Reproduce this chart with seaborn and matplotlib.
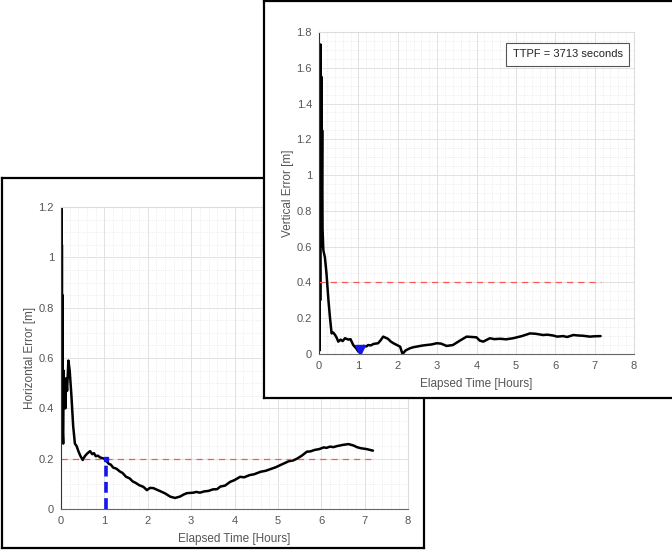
import numpy as np
import pandas as pd
import matplotlib
matplotlib.use('Agg')
import matplotlib.pyplot as plt
from matplotlib.ticker import MultipleLocator
import seaborn as sns

# horizontal error (bottom-left panel)
h_time = [0.00, 0.01, 0.015, 0.02, 0.025, 0.03, 0.035, 0.04, 0.05, 0.06, 0.07, 0.08, 0.10,
          0.12, 0.14, 0.17, 0.20, 0.22, 0.24, 0.28, 0.32, 0.34, 0.36, 0.40, 0.45, 0.50, 0.55,
          0.60, 0.67, 0.72, 0.76, 0.80, 0.85, 0.90, 1.00, 1.05, 1.10, 1.15, 1.20, 1.28,
          1.35, 1.42, 1.50, 1.58, 1.65, 1.72, 1.80, 1.90,
          1.98, 2.05, 2.13, 2.22, 2.30, 2.40, 2.52, 2.63, 2.75, 2.82, 2.90, 3.05, 3.12,
          3.20, 3.30, 3.40, 3.50, 3.60, 3.67, 3.78, 3.90, 4.00,
          4.13, 4.22, 4.35, 4.45, 4.60, 4.72, 4.85, 4.95, 5.06, 5.15, 5.25, 5.35, 5.44,
          5.55, 5.67, 5.75, 5.85, 5.95, 6.06, 6.12, 6.20, 6.28, 6.36,
          6.50, 6.63, 6.75, 6.82, 6.90, 7.05, 7.19]
h_err = [0.40, 1.20, 0.45, 1.05, 0.50, 0.38, 0.85, 0.30, 0.26, 0.55, 0.42, 0.50, 0.40,
         0.52, 0.47, 0.59, 0.55, 0.50, 0.45, 0.33, 0.26, 0.255, 0.25, 0.23, 0.21, 0.195, 0.21,
         0.22, 0.23, 0.218, 0.222, 0.21, 0.212, 0.205, 0.20, 0.19, 0.18, 0.176, 0.165, 0.16,
         0.15, 0.143, 0.128, 0.122, 0.11, 0.104, 0.095, 0.088,
         0.075, 0.084, 0.083, 0.076, 0.07, 0.062, 0.049, 0.044, 0.05, 0.057, 0.063, 0.065, 0.068,
         0.065, 0.07, 0.072, 0.078, 0.079, 0.089, 0.093, 0.108, 0.115,
         0.128, 0.126, 0.135, 0.138, 0.148, 0.152, 0.16, 0.166, 0.175, 0.182, 0.19, 0.193, 0.20,
         0.212, 0.228, 0.229, 0.235, 0.238, 0.245, 0.243, 0.248, 0.246, 0.25,
         0.255, 0.258, 0.252, 0.246, 0.242, 0.238, 0.232]

# vertical error (top-right panel)
v_time = [0.00, 0.01, 0.015, 0.02, 0.03, 0.04, 0.05, 0.06, 0.07, 0.08, 0.09, 0.11,
          0.15, 0.19, 0.24, 0.28, 0.32, 0.36, 0.41, 0.45, 0.49, 0.55, 0.60, 0.66, 0.75,
          0.80, 0.87, 0.95, 1.00, 1.05, 1.13, 1.20, 1.25, 1.32, 1.38, 1.50, 1.56, 1.63,
          1.70, 1.75, 1.82, 1.89, 2.06,
          2.12, 2.20, 2.31, 2.40, 2.50, 2.62, 2.73, 2.85, 2.99, 3.10, 3.24, 3.40, 3.58,
          3.75, 3.88, 4.00,
          4.08, 4.17, 4.34, 4.45, 4.60, 4.75, 4.93, 5.15, 5.36, 5.50, 5.69, 5.80, 5.95,
          6.05, 6.20, 6.30,
          6.46, 6.60, 6.70, 6.88, 7.00, 7.15]
v_err = [0.05, 1.10, 0.02, 1.12, 0.30, 1.73, 0.60, 1.55, 0.92, 1.25, 0.70, 0.58,
         0.54, 0.45, 0.30, 0.20, 0.115, 0.12, 0.106, 0.09, 0.069, 0.08, 0.072, 0.088, 0.08,
         0.083, 0.05, 0.03, 0.013, 0.03, 0.045, 0.042, 0.05, 0.048, 0.056, 0.06, 0.075, 0.097,
         0.09, 0.085, 0.07, 0.06, 0.041,
         0.0, 0.02, 0.032, 0.038, 0.042, 0.047, 0.05, 0.053, 0.06, 0.058, 0.045, 0.05, 0.075,
         0.097, 0.095, 0.093,
         0.075, 0.069, 0.088, 0.083, 0.085, 0.082, 0.088, 0.10, 0.115, 0.113, 0.106, 0.108, 0.103,
         0.097, 0.10, 0.095,
         0.106, 0.103, 0.102, 0.097, 0.099, 0.10]

h_threshold = 0.2
v_threshold = 0.4
ttpf_hours = 3713 / 3600
ttpf_label = 'TTPF = 3713 seconds'

sns.set_style('white')
plt.rcParams['font.family'] = ['Liberation Sans', 'DejaVu Sans']

fig = plt.figure(figsize=(6.72, 5.5), dpi=100)


def frame(rect):
    f = fig.add_axes(rect)
    f.set_facecolor('white')
    f.set_xticks([])
    f.set_yticks([])
    for s in f.spines.values():
        s.set_color('black')
        s.set_linewidth(1.6)
    return f


def style(ax, xmax, ymax, ymajor):
    ax.set_xlim(0, xmax)
    ax.set_ylim(0, ymax)
    ax.xaxis.set_major_locator(MultipleLocator(1))
    ax.xaxis.set_minor_locator(MultipleLocator(0.2))
    ax.yaxis.set_major_locator(MultipleLocator(ymajor))
    ax.yaxis.set_minor_locator(MultipleLocator(0.05))
    ax.grid(which='major', color='#e2e2e2', linewidth=0.7)
    ax.grid(which='minor', color='#e6e6e6', linewidth=0.6, linestyle=':')
    ax.set_axisbelow(True)
    ax.tick_params(which='major', direction='in', length=3, width=0.7,
                   colors='#555555', labelsize=8, pad=5)
    ax.tick_params(which='minor', length=0)
    ax.yaxis.set_major_formatter(plt.FuncFormatter(lambda v, p: f'{v:g}'))
    ax.spines['left'].set_color('#333333')
    ax.spines['bottom'].set_color('#666666')
    ax.spines['top'].set_color('#dddddd')
    ax.spines['right'].set_color('#dddddd')
    for s in ax.spines.values():
        s.set_linewidth(0.8)


# bottom-left panel
frame([0.003, 0.0036, 0.628, 0.6727])
ax1 = fig.add_axes([0.0908, 0.0745, 0.5164, 0.549])
style(ax1, 8, 1.2, 0.2)
df_h = pd.DataFrame({'t': h_time, 'e': h_err})
sns.lineplot(data=df_h, x='t', y='e', ax=ax1, color='black', linewidth=1.8,
             estimator=None, sort=False)
ax1.plot([0, h_time[-1]], [h_threshold, h_threshold], color='#ff5555',
         linestyle=(0, (5, 4)), linewidth=0.9)
ax1.plot([ttpf_hours, ttpf_hours], [0, h_threshold], color='#1515ee',
         linestyle=(0, (3, 1.5)), linewidth=2.6)
ax1.plot([ttpf_hours], [h_threshold], marker='s', color='#1515ee', markersize=3.5)
ax1.set_ylabel('Horizontal Error [m]', fontsize=8.5, color='#555555')
ax1.yaxis.set_label_coords(-0.072, 0.5)
ax1.set_xlabel('Elapsed Time [Hours]', fontsize=8.5, color='#555555', labelpad=5)

# top-right panel
frame([0.3929, 0.2764, 0.62, 0.7218])
ax2 = fig.add_axes([0.4747, 0.3564, 0.4688, 0.5855])
style(ax2, 8, 1.8, 0.2)
df_v = pd.DataFrame({'t': v_time, 'e': v_err})
sns.lineplot(data=df_v, x='t', y='e', ax=ax2, color='black', linewidth=1.8,
             estimator=None, sort=False)
ax2.plot([0, v_time[-1]], [v_threshold, v_threshold], color='#ff5555',
         linestyle=(0, (5, 4)), linewidth=0.9)
ax2.plot([ttpf_hours], [0.02], marker='v', color='#1515ee', markersize=7)
ax2.set_ylabel('Vertical Error [m]', fontsize=8.5, color='#555555')
ax2.yaxis.set_label_coords(-0.08, 0.5)
ax2.set_xlabel('Elapsed Time [Hours]', fontsize=8.5, color='#555555', labelpad=5)
ax2.text(0.615, 0.93, ttpf_label, transform=ax2.transAxes, fontsize=8,
         color='#222222', va='center', ha='left',
         bbox=dict(boxstyle='square,pad=0.6', facecolor='white',
                   edgecolor='#555555', linewidth=0.8))

fig.savefig('out.png', dpi=100)
